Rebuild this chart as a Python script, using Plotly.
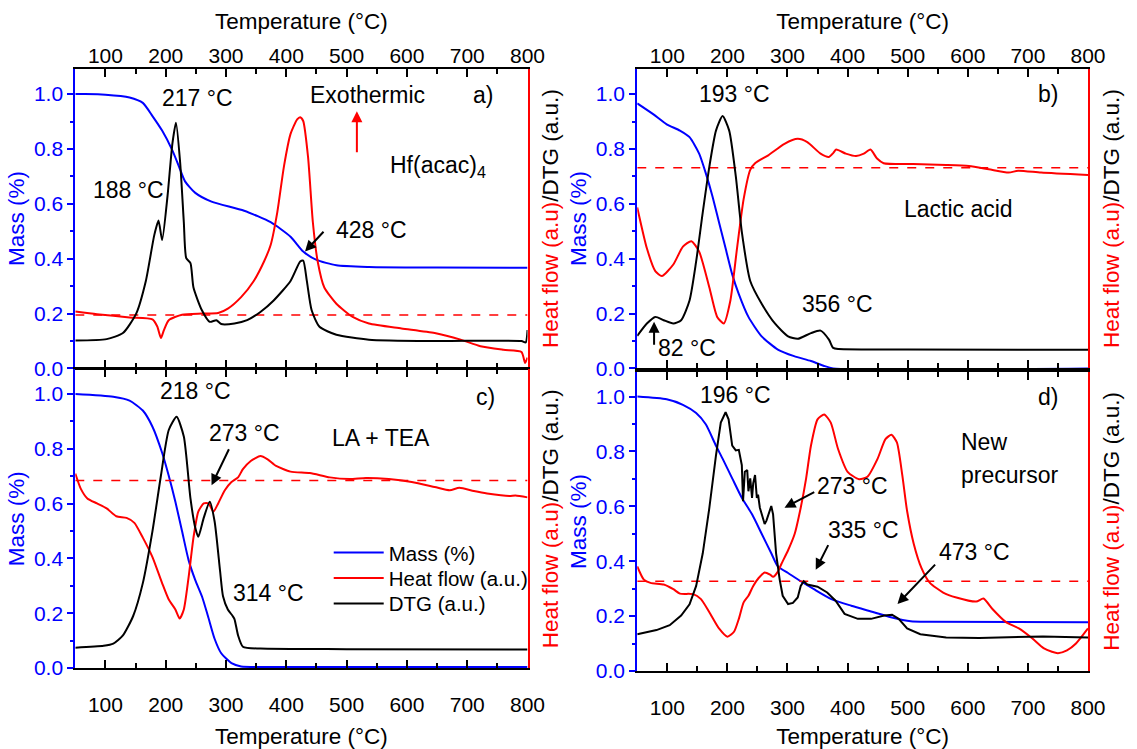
import plotly.graph_objects as go

W, H = 1137, 749
FONT = "Liberation Sans, Arial, sans-serif"
BLUE = "#0000ff"
RED = "#ff0000"

# ---------------- data (temperature in °C, values in normalised units) ----------------
# a) Hf(acac)4
a_mass_T = [50, 66, 100, 140, 162, 178, 194, 211, 222, 232, 249, 276, 330, 374, 407, 428, 450, 483, 537, 650, 800]
a_mass = [1.0, 1.0, 0.998, 0.988, 0.968, 0.92, 0.867, 0.795, 0.736, 0.682, 0.64, 0.608, 0.575, 0.533, 0.48, 0.426, 0.396, 0.376, 0.370, 0.368, 0.367]
a_dtg_T = [50, 102, 129, 151, 167, 181, 188, 194, 203, 211, 217, 224, 230, 234, 241, 246, 260, 273, 284, 292, 314, 335, 357, 379, 407, 423, 428, 434, 442, 455, 483, 537, 650, 790, 797, 800]
a_dtg = [0.102, 0.107, 0.129, 0.2, 0.319, 0.486, 0.539, 0.468, 0.629, 0.819, 0.896, 0.748, 0.533, 0.402, 0.384, 0.295, 0.212, 0.17, 0.176, 0.162, 0.164, 0.176, 0.206, 0.248, 0.319, 0.39, 0.393, 0.319, 0.212, 0.152, 0.123, 0.105, 0.10, 0.10, 0.095, 0.14]
a_heat_T = [50, 86, 140, 178, 186, 192, 197, 205, 227, 260, 287, 303, 325, 346, 363, 374, 385, 396, 407, 418, 423, 428, 436, 444, 452, 463, 483, 510, 537, 591, 646, 689, 722, 760, 790, 796, 800]
a_heat = [0.208, 0.198, 0.186, 0.179, 0.153, 0.111, 0.14, 0.176, 0.196, 0.2, 0.202, 0.218, 0.26, 0.319, 0.39, 0.45, 0.569, 0.736, 0.855, 0.908, 0.916, 0.902, 0.771, 0.533, 0.39, 0.295, 0.236, 0.188, 0.164, 0.146, 0.129, 0.105, 0.081, 0.068, 0.06, 0.02, 0.04]

# b) Lactic acid
b_mass_T = [50, 77, 99, 121, 137, 153, 164, 175, 186, 197, 208, 219, 235, 257, 284, 311, 339, 360, 376, 800]
b_mass = [0.966, 0.926, 0.89, 0.867, 0.843, 0.783, 0.712, 0.629, 0.533, 0.438, 0.343, 0.271, 0.188, 0.117, 0.069, 0.045, 0.027, 0.01, 0.0, 0.0]
b_dtg_T = [50, 66, 80, 94, 110, 123, 137, 148, 159, 170, 181, 192, 203, 214, 224, 238, 257, 279, 301, 317, 339, 355, 369, 376, 385, 500, 800]
b_dtg = [0.119, 0.164, 0.188, 0.176, 0.164, 0.176, 0.248, 0.39, 0.569, 0.736, 0.867, 0.92, 0.867, 0.7, 0.498, 0.319, 0.236, 0.164, 0.117, 0.108, 0.129, 0.138, 0.105, 0.075, 0.071, 0.069, 0.068]
b_heat_T = [50, 66, 80, 91, 110, 126, 140, 153, 170, 183, 194, 205, 216, 227, 238, 246, 268, 295, 317, 333, 355, 369, 376, 381, 397, 414, 427, 438, 449, 460, 509, 564, 602, 635, 668, 684, 722, 800]
b_heat = [0.587, 0.438, 0.355, 0.337, 0.379, 0.444, 0.464, 0.426, 0.295, 0.188, 0.164, 0.248, 0.438, 0.617, 0.724, 0.748, 0.777, 0.819, 0.837, 0.825, 0.783, 0.771, 0.785, 0.798, 0.783, 0.774, 0.783, 0.798, 0.765, 0.748, 0.745, 0.742, 0.738, 0.726, 0.714, 0.721, 0.714, 0.705]

# c) LA + TEA
c_mass_T = [50, 113, 140, 162, 178, 194, 205, 216, 227, 238, 249, 260, 270, 281, 292, 309, 325, 400, 800]
c_mass = [1.0, 0.99, 0.976, 0.94, 0.881, 0.786, 0.702, 0.607, 0.5, 0.393, 0.321, 0.262, 0.19, 0.107, 0.054, 0.018, 0.006, 0.004, 0.004]
c_dtg_T = [50, 97, 113, 129, 146, 162, 178, 192, 205, 218, 230, 241, 249, 254, 263, 273, 281, 290, 295, 303, 311, 314, 320, 328, 357, 500, 800]
c_dtg = [0.074, 0.081, 0.089, 0.119, 0.19, 0.31, 0.5, 0.702, 0.869, 0.917, 0.845, 0.619, 0.512, 0.479, 0.548, 0.607, 0.536, 0.357, 0.262, 0.214, 0.19, 0.179, 0.119, 0.078, 0.071, 0.069, 0.068]
c_heat_T = [50, 59, 70, 86, 102, 118, 135, 148, 162, 178, 194, 205, 216, 223, 230, 238, 246, 254, 263, 271, 279, 287, 298, 309, 320, 328, 341, 357, 369, 383, 407, 439, 472, 505, 532, 570, 608, 646, 671, 687, 711, 733, 770, 780, 800]
c_heat = [0.71, 0.655, 0.619, 0.601, 0.583, 0.554, 0.548, 0.53, 0.476, 0.405, 0.31, 0.25, 0.214, 0.181, 0.214, 0.333, 0.476, 0.571, 0.601, 0.601, 0.571, 0.601, 0.649, 0.679, 0.696, 0.726, 0.756, 0.774, 0.762, 0.738, 0.717, 0.712, 0.696, 0.69, 0.694, 0.69, 0.679, 0.661, 0.649, 0.658, 0.646, 0.637, 0.628, 0.63, 0.623]

# d) New precursor
d_mass_T = [50, 99, 126, 148, 164, 181, 192, 208, 224, 241, 257, 273, 284, 301, 322, 344, 373, 406, 439, 472, 505, 537, 800]
d_mass = [1.0, 0.99, 0.97, 0.94, 0.899, 0.821, 0.774, 0.702, 0.631, 0.571, 0.5, 0.429, 0.381, 0.357, 0.327, 0.298, 0.262, 0.238, 0.217, 0.196, 0.181, 0.179, 0.178]
d_dtg_T = [50, 82, 104, 123, 137, 148, 159, 170, 181, 189, 197, 202, 208, 214, 219, 224, 226, 229, 233, 235, 238, 241, 243, 246, 249, 251, 254, 257, 260, 262, 265, 268, 273, 276, 281, 287, 292, 301, 309, 317, 322, 327, 333, 350, 366, 380, 395, 417, 439, 461, 474, 485, 499, 521, 564, 619, 725, 800]
d_dtg = [0.134, 0.149, 0.167, 0.202, 0.243, 0.31, 0.429, 0.595, 0.786, 0.905, 0.943, 0.917, 0.821, 0.804, 0.806, 0.75, 0.619, 0.726, 0.732, 0.655, 0.702, 0.631, 0.685, 0.714, 0.631, 0.643, 0.595, 0.571, 0.554, 0.536, 0.548, 0.571, 0.601, 0.571, 0.429, 0.333, 0.274, 0.244, 0.248, 0.268, 0.31, 0.327, 0.315, 0.307, 0.286, 0.256, 0.208, 0.19, 0.19, 0.202, 0.205, 0.19, 0.155, 0.134, 0.122, 0.12, 0.126, 0.122]
d_heat_T = [50, 61, 72, 94, 110, 121, 143, 156, 170, 186, 200, 211, 219, 227, 235, 243, 252, 262, 271, 276, 284, 290, 301, 312, 322, 331, 339, 350, 361, 372, 384, 400, 419, 433, 450, 463, 473, 482, 491, 499, 510, 523, 537, 559, 581, 614, 626, 641, 663, 685, 707, 726, 740, 750, 765, 780, 800]
d_heat = [0.381, 0.333, 0.321, 0.315, 0.298, 0.282, 0.28, 0.262, 0.214, 0.155, 0.125, 0.143, 0.19, 0.25, 0.274, 0.31, 0.339, 0.359, 0.351, 0.343, 0.362, 0.391, 0.44, 0.5, 0.595, 0.702, 0.821, 0.917, 0.935, 0.905, 0.81, 0.726, 0.699, 0.708, 0.774, 0.845, 0.861, 0.833, 0.714, 0.583, 0.464, 0.375, 0.321, 0.286, 0.268, 0.253, 0.264, 0.226, 0.179, 0.155, 0.119, 0.083, 0.07, 0.065, 0.075, 0.1, 0.155]

# heat-flow baselines (dashed)
baselines = {"a": 0.195, "b": 0.732, "c": 0.685, "d": 0.327}

# ---------------- layout geometry (pixels) ----------------
panels = [
    # key, x-span px, y-span px (top, bottom), y max, top x-axis
    ("a", (76.5, 536.0), (70.0, 376.0), 1.093, True),
    ("b", (647.5, 1105.5), (70.0, 376.0), 1.093, True),
    ("c", (76.5, 536.0), (377.0, 681.7), 1.09, False),
    ("d", (647.5, 1105.5), (379.5, 684.7), 1.09, False),
]

series = {
    "a": (a_mass_T, a_mass, a_heat_T, a_heat, a_dtg_T, a_dtg),
    "b": (b_mass_T, b_mass, b_heat_T, b_heat, b_dtg_T, b_dtg),
    "c": (c_mass_T, c_mass, c_heat_T, c_heat, c_dtg_T, c_dtg),
    "d": (d_mass_T, d_mass, d_heat_T, d_heat, d_dtg_T, d_dtg),
}

fig = go.Figure()
layout = {}

RIGHT_TITLE = '<span style="color:#ff0000">Heat flow (a.u)</span>/DTG (a.u.)'

for i, (key, (x0, x1), (yt, yb), ymax, top) in enumerate(panels, start=1):
    xa, ya, yr = f"x{i}", f"y{i}", f"y{i + 4}"
    xname = "xaxis" if i == 1 else f"xaxis{i}"
    yname = "yaxis" if i == 1 else f"yaxis{i}"
    yrname = f"yaxis{i + 4}"

    layout[xname] = dict(
        domain=[x0 / W, x1 / W], range=[50, 800], anchor=ya,
        side="top" if top else "bottom",
        showline=True, linecolor="black", linewidth=2, mirror="ticks",
        ticks="inside", ticklen=8, tickwidth=1.5, tickcolor="black",
        tick0=0, dtick=100, ticklabelstandoff=-5 if top else 17,
        minor=dict(ticks="inside", dtick=50, ticklen=5, tickwidth=1.5, tickcolor="black"),
        tickfont=dict(family=FONT, size=21, color="black"),
        title=dict(text="Temperature (°C)", font=dict(family=FONT, size=22.5, color="black"),
                   standoff=8 if top else 14),
        showgrid=False, zeroline=False,
    )
    layout[yname] = dict(
        domain=[1 - yb / H, 1 - yt / H], range=[0, ymax], anchor=xa, side="left",
        showline=True, linecolor=BLUE, linewidth=2,
        ticks="outside", ticklen=6, tickwidth=1.5, tickcolor=BLUE,
        tick0=0, dtick=0.2, tickformat=".1f",
        minor=dict(ticks="outside", dtick=0.1, ticklen=3, tickwidth=1.5, tickcolor=BLUE),
        tickfont=dict(family=FONT, size=21, color=BLUE),
        title=dict(text="Mass (%)", font=dict(family=FONT, size=22.5, color=BLUE), standoff=3),
        showgrid=False, zeroline=False,
    )
    layout[yrname] = dict(
        domain=[1 - yb / H, 1 - yt / H], range=[0, ymax], anchor=xa, side="right",
        overlaying=ya, showline=True, linecolor=RED, linewidth=2,
        ticks="", showticklabels=False,
        title=dict(text=RIGHT_TITLE, font=dict(family=FONT, size=22.5, color="black"), standoff=14),
        showgrid=False, zeroline=False,
    )

    mT, m, hT, h, dT, d = series[key]
    show = key == "c"
    fig.add_trace(go.Scatter(x=[50, 800], y=[baselines[key]] * 2, xaxis=xa, yaxis=yr, mode="lines",
                             line=dict(color=RED, width=1.5, dash="dash"), showlegend=False, hoverinfo="skip"))
    fig.add_trace(go.Scatter(x=mT, y=m, xaxis=xa, yaxis=ya, mode="lines", name="Mass (%)",
                             line=dict(color=BLUE, width=2, shape="spline", smoothing=0.6),
                             showlegend=show, legend="legend"))
    fig.add_trace(go.Scatter(x=hT, y=h, xaxis=xa, yaxis=yr, mode="lines", name="Heat flow (a.u.)",
                             line=dict(color=RED, width=2, shape="spline", smoothing=0.6),
                             showlegend=show, legend="legend2"))
    fig.add_trace(go.Scatter(x=dT, y=d, xaxis=xa, yaxis=yr, mode="lines", name="DTG (a.u.)",
                             line=dict(color="black", width=2,
                                       shape="linear" if key == "d" else "spline", smoothing=0.6),
                             showlegend=show, legend="legend3"))

# ---------------- annotations ----------------
TXT = dict(family=FONT, size=23, color="black")
labels = [
    # panel index, T, value, text
    (1, 252, 0.986, "217 °C"), (1, 139, 0.652, "188 °C"), (1, 542, 0.504, "428 °C"),
    (1, 535, 0.998, "Exothermic"), (1, 651, 0.736, "Hf(acac)<sub>4</sub>"), (1, 727, 0.996, "a)"),
    (2, 211, 1.0, "193 °C"), (2, 133, 0.075, "82 °C"), (2, 383, 0.236, "356 °C"),
    (2, 585, 0.581, "Lactic acid"), (2, 734, 1.0, "b)"),
    (3, 250, 1.01, "218 °C"), (3, 330, 0.857, "273 °C"), (3, 371, 0.274, "314 °C"),
    (3, 557, 0.839, "LA + TEA"), (3, 731, 0.988, "c)"),
    (4, 213, 1.006, "196 °C"), (4, 734, 0.998, "d)"),
    (4, 408, 0.673, "273 °C"), (4, 426, 0.512, "335 °C"), (4, 611, 0.435, "473 °C"),
]
annotations = []
for p, tx, ty, t in labels:
    annotations.append(dict(x=tx, y=ty, xref=f"x{p}", yref=f"y{p}", text=t, showarrow=False,
                            font=TXT, xanchor="center", yanchor="middle"))
for ty, t in [(0.834, "New"), (0.714, "precursor")]:
    annotations.append(dict(x=586, y=ty, xref="x4", yref="y4", text=t, showarrow=False,
                            font=TXT, xanchor="left", yanchor="middle"))

arrows = [
    # panel, head T, head value, tail T, tail value, colour
    (1, 431, 0.426, 464, 0.504, "black"),
    (1, 517, 0.938, 517, 0.783, RED),
    (2, 78, 0.17, 78, 0.081, "black"),
    (3, 276, 0.667, 306, 0.804, "black"),
    (4, 295, 0.595, 347, 0.655, "black"),
    (4, 347, 0.369, 369, 0.464, "black"),
    (4, 483, 0.244, 548, 0.393, "black"),
]
for p, hx, hy, tx, ty, col in arrows:
    annotations.append(dict(x=hx, y=hy, ax=tx, ay=ty, xref=f"x{p}", yref=f"y{p}",
                            axref=f"x{p}", ayref=f"y{p}", text="", showarrow=True,
                            arrowhead=2, arrowsize=1.1, arrowwidth=2, arrowcolor=col))

# one legend box per row, stacked inside panel c
legend_rows = [("legend", 564.0), ("legend2", 590.0), ("legend3", 616.0)]
legend_layout = {}
for name, row_y in legend_rows:
    legend_layout[name] = dict(x=334 / W, y=1 - row_y / H, xanchor="left", yanchor="middle",
                               bgcolor="rgba(0,0,0,0)", borderwidth=0,
                               font=dict(family=FONT, size=20.5, color="black"),
                               itemwidth=50)

fig.update_layout(
    width=W, height=H, margin=dict(l=0, r=0, t=0, b=0),
    paper_bgcolor="white", plot_bgcolor="white",
    font=dict(family=FONT, size=21, color="black"),
    annotations=annotations,
    **legend_layout,
    **layout,
)

fig.write_html("out.html")
